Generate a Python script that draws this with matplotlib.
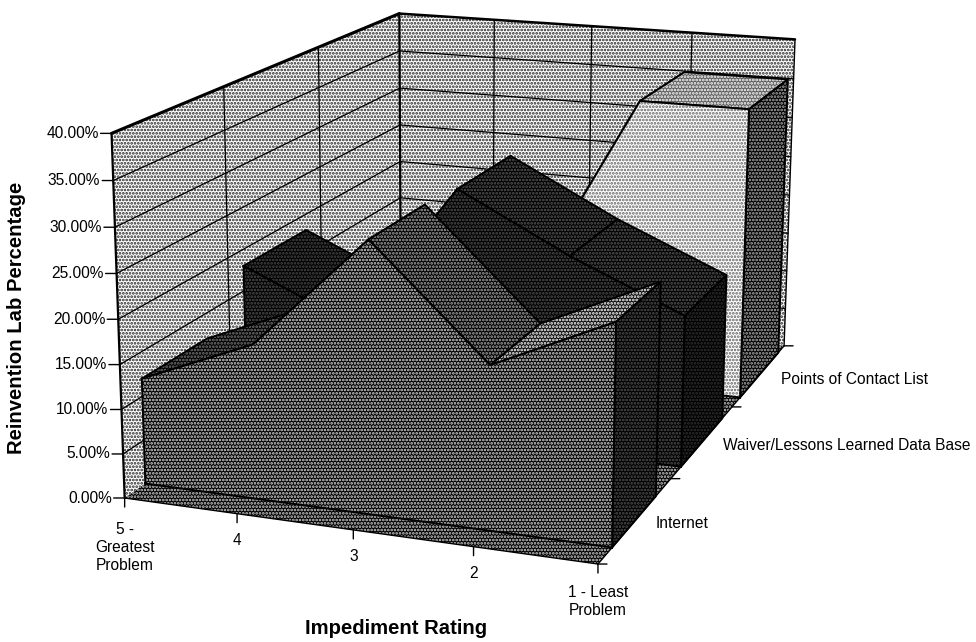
import numpy as np, matplotlib
matplotlib.use('Agg')
import matplotlib.pyplot as plt
from mpl_toolkits.mplot3d import proj3d
from mpl_toolkits.mplot3d.art3d import Poly3DCollection

ratings = ['5 -\nGreatest\nProblem', '4', '3', '2', '1 - Least\nProblem']
series_names = ['Internet', 'Waiver/Lessons Learned Data Base', 'Points of Contact List']
internet = [12.0, 17.3, 30.0, 18.0, 24.0]
waiver = [18.0, 12.5, 29.5, 23.0, 17.5]
points = [10.0, 10.0, 12.0, 35.5, 35.5]
value_ticks = [0, 5, 10, 15, 20, 25, 30, 35, 40]

plt.rcParams['font.family'] = ['Liberation Sans', 'DejaVu Sans']
plt.rcParams['hatch.linewidth'] = 1.3
W, H = 976, 642
fig = plt.figure(figsize=(W/100, H/100), dpi=100)

# camera
ax = fig.add_axes([0, 0, 1, 1], projection='3d')
ax.computed_zorder = False
ax.view_init(elev=14.992, azim=-69.964, roll=-0.198)
ax.set_proj_type('persp', focal_length=0.5363)
ax.set_box_aspect((1, 1.4894, 0.7514))
a, cx, cy = 4681.32, 485.14, 390.61
x0, x1 = ax.viewLim.intervalx
y0, y1 = ax.viewLim.intervaly
ax.set_position([(cx + x0*a)/W, (cy + y0*a)/H, (x1-x0)*a/W, (y1-y0)*a/H])
ax.set_axis_off()
ax.patch.set_alpha(0)
ax.set_xlim(0, 1)
ax.set_ylim(0, 1)
ax.set_zlim(0, 40)
ax.set_autoscale_on(False)

xs = np.linspace(0, 1, len(ratings))
z = [0]
def nz():
    z[0] += 1
    return z[0]
def poly(v, fc, hc, edge=1.4):
    ax.add_collection3d(Poly3DCollection([v], facecolors=fc, edgecolors=hc, linewidths=0, hatch='.....', zorder=nz()), autolim=False)
    if edge:
        c = np.array(list(v) + [v[0]])
        ax.plot(c[:, 0], c[:, 1], c[:, 2], color='k', lw=edge, zorder=nz(), solid_joinstyle='round')
def line(p, q, lw=0.9):
    ax.plot([p[0], q[0]], [p[1], q[1]], [p[2], q[2]], color='k', lw=lw, zorder=nz(), solid_capstyle='round')

# walls and floor
poly([(0, 0, 0), (0, 1, 0), (0, 1, 40), (0, 0, 40)], 'white', '#202020', edge=0)
poly([(0, 1, 0), (1, 1, 0), (1, 1, 40), (0, 1, 40)], 'white', '#202020', edge=0)
poly([(0, 0, 0), (1, 0, 0), (1, 1, 0), (0, 1, 0)], '#000000', '#d0d0d0', edge=0)
for v in value_ticks[1:-1]:
    line((0, 0, v), (0, 1, v))
    line((0, 1, v), (1, 1, v))
for d in (1/3, 2/3):
    line((0, d, 0), (0, d, 40))
for xv in xs[1:-1]:
    line((xv, 1, 0), (xv, 1, 40))
line((0, 0, 0), (0, 0, 40), 1.6)
line((0, 1, 0), (0, 1, 40), 1.6)
line((1, 1, 0), (1, 1, 40), 1.0)
line((0, 0, 40), (0, 1, 40), 2.2)
line((0, 1, 40), (1, 1, 40), 1.8)
line((0, 0, 0), (1, 0, 0), 1.0)
line((1, 0, 0), (1, 1, 0), 1.0)

def area(vals, d0, d1, front, side, tops):
    for i in range(len(xs)-1):
        poly([(xs[i], d0, vals[i]), (xs[i+1], d0, vals[i+1]), (xs[i+1], d1, vals[i+1]), (xs[i], d1, vals[i])], *tops[i])
    poly([(1, d0, 0), (1, d1, 0), (1, d1, vals[-1]), (1, d0, vals[-1])], *side)
    poly([(xs[0], d0, 0)] + [(x, d0, v) for x, v in zip(xs, vals)] + [(xs[-1], d0, 0)], *front)

area(points, 0.715, 0.96, ('white', '#606060'), ('#000000', '#b0b0b0'),
     [('#000000', '#808080')]*2 + [('#000000', '#b0b0b0')] + [('#606060', '#ffffff')])
area(waiver, 0.385, 0.61, ('#000000', '#505050'), ('#000000', '#303030'),
     [('#000000', '#484848'), ('#000000', '#484848'), ('#000000', '#585858'), ('#000000', '#585858')])
area(internet, 0.06, 0.26, ('#000000', '#d8d8d8'), ('#000000', '#505050'),
     [('#000000', '#787878'), ('#000000', '#b0b0b0'), ('#000000', '#a8a8a8'), ('#101010', '#ffffff')])

M = ax.get_proj()
def at(px, py, pz):
    u, v, _ = proj3d.proj_transform(px, py, pz, M)
    return (u, v)
def tick(p, dx, dy):
    ax.annotate('', xy=p, xytext=(dx, dy), textcoords='offset pixels', annotation_clip=False,
                arrowprops=dict(arrowstyle='-', lw=1.0, color='k', shrinkA=0, shrinkB=0), zorder=1000)
def lab(p, s, dx, dy, ha='center', va='center'):
    ax.annotate(s, xy=p, xytext=(dx, dy), textcoords='offset pixels', ha=ha, va=va, fontsize=11.2,
                annotation_clip=False, zorder=1001, linespacing=1.25)

for v in value_ticks:
    p = at(0, 0, v)
    tick(p, -11, 0)
    lab(p, f'{v:.2f}%', -13, 0, ha='right')
for xv, s in zip(xs, ratings):
    p = at(xv, 0, 0)
    tick(p, 0, -9)
    dy = -49 if s.count('\n') == 2 else (-37 if s.count('\n') == 1 else -27)
    lab(p, s, 0, dy)
for d in (0, 1/3, 2/3, 1):
    tick(at(1, d, 0), 9, 0)
for d, s, dx in zip((1/6, 1/2, 5/6), series_names, (20, 20, 22)):
    lab(at(1, d, 0), s, dx, -4, ha='left')

fig.text(396/W, 1-628/H, 'Impediment Rating', ha='center', va='center', fontsize=14.6, fontweight='bold')
fig.text(17/W, 1-318/H, 'Reinvention Lab Percentage', ha='center', va='center', rotation=90, fontsize=14.6, fontweight='bold')
fig.savefig('out.png', dpi=100)
